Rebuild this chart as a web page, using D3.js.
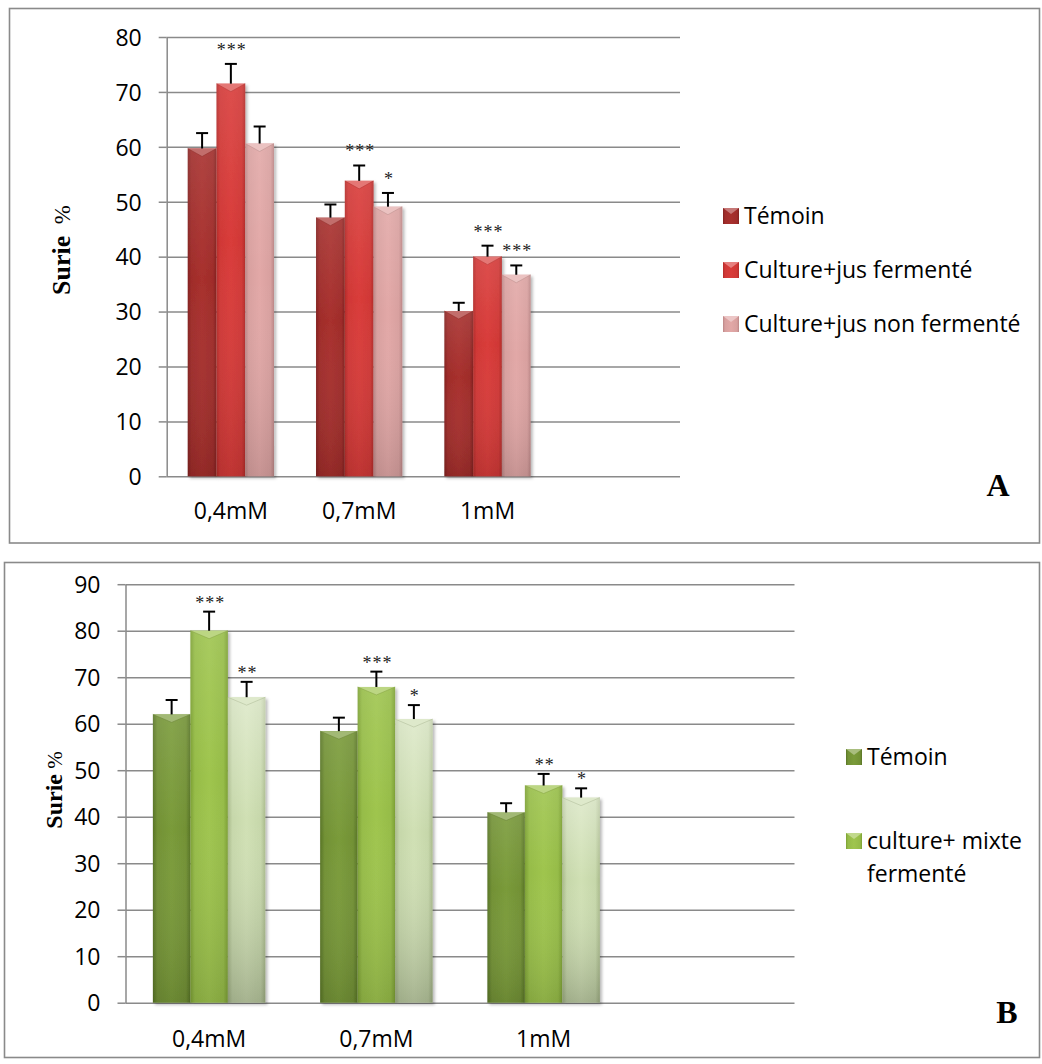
<!DOCTYPE html>
<html>
<head>
<meta charset="utf-8">
<script src="https://cdn.jsdelivr.net/npm/d3@7"></script>
<style>
  body { margin: 0; background: #fff; }
  svg { display: block; }
</style>
</head>
<body>
<svg id="fig" width="1042" height="1064"></svg>
<script>
// Doses shared by both panels
const doses = ["0,4mM", "0,7mM", "1mM"];

// Panel A: survival (%) by treatment
const seriesA = ["Témoin", "Culture+jus fermenté", "Culture+jus non fermenté"];
const temoinA = [59.7, 47.1, 30.1];
const fermenteA = [71.5, 53.8, 40.0];
const nonFermenteA = [60.6, 49.1, 36.7];
const errTemoinA = [2.8, 2.4, 1.5];
const errFermenteA = [3.6, 2.8, 2.0];
const errNonFermenteA = [3.1, 2.5, 1.7];
const sigTemoinA = ["", "", ""];
const sigFermenteA = ["***", "***", "***"];
const sigNonFermenteA = ["", "*", "***"];
const ticksA = [0, 10, 20, 30, 40, 50, 60, 70, 80];

// Panel B: survival (%) with the mixed culture
const legendB = ["Témoin", "culture+ mixte fermenté"];
const temoinB = [62.0, 58.4, 40.9];
const mixteB = [80.0, 67.9, 46.7];
const mixteNonFermenteB = [65.7, 61.0, 44.1];
const errTemoinB = [3.1, 2.9, 2.0];
const errMixteB = [4.1, 3.3, 2.5];
const errMixteNonFermenteB = [3.3, 3.0, 2.0];
const sigTemoinB = ["", "", ""];
const sigMixteB = ["***", "***", "**"];
const sigMixteNonFermenteB = ["**", "*", "*"];
const ticksB = [0, 10, 20, 30, 40, 50, 60, 70, 80, 90];

const svg = d3.select("#fig");
const defs = svg.append("defs");
const GRID = "#8a8a8a";
const SANS = "'Open Sans', 'Noto Sans', sans-serif";
const SERIF = "'Liberation Serif', 'DejaVu Serif', serif";

// Horizontal shading that gives the columns their rounded look
function barGradient(id, edge, mid) {
  const g = defs.append("linearGradient").attr("id", id)
    .attr("x1", 0).attr("x2", 1).attr("y1", 0).attr("y2", 0);
  const m = d3.interpolateRgb(edge, mid);
  [[0, edge], [0.12, m(0.75)], [0.5, mid], [0.88, m(0.75)], [1, edge]].forEach(([o, c]) =>
    g.append("stop").attr("offset", o).attr("stop-color", c));
}
// Vertical light-to-dark wash laid over each column
function washGradient(id, topOpacity, bottomOpacity) {
  const g = defs.append("linearGradient").attr("id", id)
    .attr("x1", 0).attr("x2", 0).attr("y1", 0).attr("y2", 1);
  g.append("stop").attr("offset", 0).attr("stop-color", "#fff").attr("stop-opacity", topOpacity);
  g.append("stop").attr("offset", 0.4).attr("stop-color", "#fff").attr("stop-opacity", 0);
  g.append("stop").attr("offset", 1).attr("stop-color", "#000").attr("stop-opacity", bottomOpacity);
}
washGradient("shade", 0.1, 0.12);
washGradient("shadeLight", 0.35, 0.2);

const shadow = defs.append("filter").attr("id", "barShadow")
  .attr("x", "-20%").attr("y", "-5%").attr("width", "150%").attr("height", "115%");
shadow.append("feDropShadow").attr("dx", 2).attr("dy", 2).attr("stdDeviation", 1.6)
  .attr("flood-color", "#000").attr("flood-opacity", 0.28);

barGradient("gA0", "#82211f", "#a8302d");
barGradient("gA1", "#b32b29", "#d93c3a");
barGradient("gA2", "#bb8686", "#e2a8a7");
barGradient("gB0", "#587426", "#7a9b3a");
barGradient("gB1", "#7ca034", "#9fc54e");
barGradient("gB2", "#a9ba8b", "#d0e0b4");

// A column with its bevelled top
function column(g, x, yTop, w, h, grad, mid, wash) {
  const c = g.append("g").attr("filter", "url(#barShadow)");
  c.append("rect").attr("x", x).attr("y", yTop).attr("width", w).attr("height", h)
    .attr("fill", `url(#${grad})`);
  c.append("rect").attr("x", x).attr("y", yTop).attr("width", w).attr("height", h)
    .attr("fill", `url(#${wash})`);
  const b = Math.min(8, h);
  c.append("path")
    .attr("d", `M${x},${yTop}L${x + w},${yTop}L${x + w / 2},${yTop + b}Z`)
    .attr("fill", d3.interpolateRgb(mid, "#fff")(0.3));
  c.append("path")
    .attr("d", `M${x},${yTop}L${x + w / 2},${yTop + b}L${x + w},${yTop}`)
    .attr("fill", "none").attr("stroke", d3.color(mid).darker(0.6)).attr("stroke-width", 0.8).attr("opacity", 0.6);
}

function drawPanel(p) {
  const g = svg.append("g");
  const slots = p.categories.concat([""]);
  const x0 = d3.scaleBand().domain(slots).range([p.left, p.right]);
  const step = x0.step();
  const x1 = d3.scaleBand().domain(d3.range(p.values.length)).range([step * 0.1637, step * 0.8363]);
  const y = d3.scaleLinear().domain([0, p.max]).range([p.zeroY, p.topY]);

  // horizontal gridlines
  g.append("g").attr("transform", `translate(${p.left},0)`)
    .call(d3.axisLeft(y).tickValues(p.ticks).tickSize(-(p.right - p.left)).tickFormat(""))
    .call(a => a.select(".domain").remove())
    .call(a => a.selectAll("line").attr("stroke", GRID).attr("stroke-width", 1.5));

  // value axis
  const ya = g.append("g").attr("transform", `translate(${p.left},0)`)
    .call(d3.axisLeft(y).tickValues(p.ticks).tickSize(8).tickSizeOuter(0).tickPadding(p.tickPad));
  ya.select(".domain").attr("stroke", GRID).attr("stroke-width", 1.5);
  ya.selectAll(".tick line").attr("stroke", GRID).attr("stroke-width", 1.5);
  ya.selectAll("text").attr("font-family", SANS).attr("font-size", 23).attr("fill", "#000").attr("dy", "0.36em");

  // category labels
  const xa = g.append("g").attr("transform", `translate(0,${p.zeroY})`)
    .call(d3.axisBottom(x0).tickSize(0).tickPadding(p.catPad));
  xa.select(".domain").remove();
  xa.selectAll(".tick").filter(d => d === "").remove();
  xa.selectAll("text").attr("font-family", SANS).attr("font-size", 23).attr("fill", "#000");

  // columns, error bars and significance marks
  p.values.forEach((vals, s) => {
    vals.forEach((v, i) => {
      const bx = x0(p.categories[i]) + x1(s);
      const w = x1.bandwidth();
      column(g, bx, y(v), w, y(0) - y(v), p.grads[s], p.mids[s], p.washes[s]);
    });
  });
  p.values.forEach((vals, s) => {
    vals.forEach((v, i) => {
      const cx = x0(p.categories[i]) + x1(s) + x1.bandwidth() / 2;
      const top = y(v + p.errs[s][i]);
      g.append("line").attr("x1", cx).attr("x2", cx).attr("y1", y(v)).attr("y2", top)
        .attr("stroke", "#000").attr("stroke-width", 2);
      g.append("line").attr("x1", cx - 6).attr("x2", cx + 6).attr("y1", top).attr("y2", top)
        .attr("stroke", "#000").attr("stroke-width", 2);
      const sig = p.sigs[s][i];
      if (sig) {
        g.append("text").attr("x", cx + 1).attr("y", top - p.starGap)
          .attr("text-anchor", "middle").attr("font-family", SERIF).attr("font-size", 18)
          .attr("letter-spacing", 1).attr("fill", "#222").text(sig);
      }
    });
  });

  // legend
  const lg = g.append("g");
  p.legend.forEach((lab, k) => {
    const by = p.legendY[k];
    lg.append("rect").attr("x", p.legendX).attr("y", by - 16).attr("width", 16).attr("height", 16)
      .attr("fill", `url(#${p.grads[k]})`);
    lg.append("path")
      .attr("d", `M${p.legendX},${by - 16}L${p.legendX + 16},${by - 16}L${p.legendX + 8},${by - 10}Z`)
      .attr("fill", d3.interpolateRgb(p.mids[k], "#fff")(0.35));
    const t = lg.append("text").attr("x", p.legendX + 21).attr("y", by)
      .attr("font-family", SANS).attr("font-size", 23).attr("fill", "#000");
    // wrap long entries onto a second line
    const words = lab.split(" ");
    let line = [], tspan = t.append("tspan").attr("x", p.legendX + 21).attr("y", by), lineNo = 0;
    words.forEach(wd => {
      line.push(wd);
      tspan.text(line.join(" "));
      if (tspan.node().getComputedTextLength() > p.legendWidth && line.length > 1) {
        line.pop();
        tspan.text(line.join(" "));
        line = [wd];
        lineNo += 1;
        tspan = t.append("tspan").attr("x", p.legendX + 21).attr("y", by + lineNo * 33).text(wd);
      }
    });
  });

  // axis title
  const tt = g.append("text")
    .attr("transform", `translate(${p.titleX},${p.titleY}) rotate(-90)`)
    .attr("text-anchor", "middle").attr("font-family", SERIF).attr("fill", "#000")
    .attr("xml:space", "preserve");
  tt.append("tspan").attr("font-weight", "bold").attr("font-size", p.titleSize).text("Surie");
  tt.append("tspan").attr("font-size", p.titleSize - 3).text(p.titleGap + "%");

  // panel letter
  g.append("text").attr("x", p.letterX).attr("y", p.letterY).attr("text-anchor", "middle")
    .attr("font-family", SERIF).attr("font-weight", "bold").attr("font-size", 32).text(p.letter);
}

// frames around the two panels
svg.append("rect").attr("x", 9.5).attr("y", 8.5).attr("width", 1030).attr("height", 534.5)
  .attr("fill", "none").attr("stroke", GRID).attr("stroke-width", 1.6);
svg.append("rect").attr("x", 4.5).attr("y", 562.5).attr("width", 1035).attr("height", 495)
  .attr("fill", "none").attr("stroke", GRID).attr("stroke-width", 1.6);

drawPanel({
  categories: doses, values: [temoinA, fermenteA, nonFermenteA],
  errs: [errTemoinA, errFermenteA, errNonFermenteA],
  sigs: [sigTemoinA, sigFermenteA, sigNonFermenteA],
  grads: ["gA0", "gA1", "gA2"], mids: ["#a8302d", "#d93c3a", "#e2a8a7"],
  washes: ["shade", "shade", "shade"],
  max: 80, ticks: ticksA,
  left: 166.7, right: 680, zeroY: 476.3, topY: 37,
  tickPad: 17, catPad: 26, starGap: 8,
  legend: seriesA, legendX: 723, legendY: [224, 278, 332], legendWidth: 300,
  titleX: 70, titleY: 250, titleSize: 26, titleGap: "  ",
  letter: "A", letterX: 998, letterY: 496
});

drawPanel({
  categories: doses, values: [temoinB, mixteB, mixteNonFermenteB],
  errs: [errTemoinB, errMixteB, errMixteNonFermenteB],
  sigs: [sigTemoinB, sigMixteB, sigMixteNonFermenteB],
  grads: ["gB0", "gB1", "gB2"], mids: ["#7a9b3a", "#9fc54e", "#d0e0b4"],
  washes: ["shade", "shade", "shadeLight"],
  max: 90, ticks: ticksB,
  left: 125.5, right: 794.5, zeroY: 1002.7, topY: 584.2,
  tickPad: 17, catPad: 28, starGap: 3,
  legend: legendB, legendX: 846, legendY: [765, 849], legendWidth: 168,
  titleX: 62, titleY: 790, titleSize: 24, titleGap: " ",
  letter: "B", letterX: 1007, letterY: 1023
});
</script>
</body>
</html>
